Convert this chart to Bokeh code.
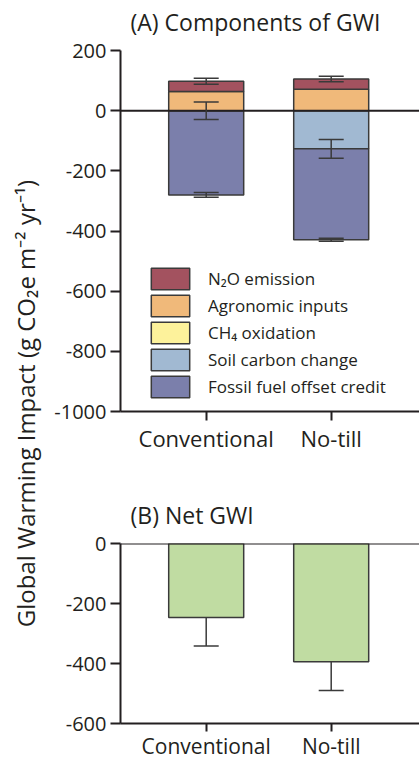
import numpy as np
from math import pi
from bokeh.plotting import figure
from bokeh.models import (ColumnDataSource, Whisker, TeeHead, Span, FixedTicker,
                          Legend, LegendItem, Label, Range1d)
from bokeh.layouts import row, column
from bokeh.embed import file_html
from bokeh.resources import INLINE

# ---------------- data ----------------
systems = ["Conventional", "No-till"]
x_pos = [1, 2]

n2o_emission = [34, 34]
n2o_err = [10, 9]
agronomic_inputs = [64, 71]
ch4_oxidation = [0, 0]
soil_carbon_change = [0, -127]
soil_carbon_err = [29, 31]
fossil_fuel_credit = [-280, -302]
fossil_fuel_err = [8, 5]

net_gwi = [-247, -394]
net_gwi_err = [95, 96]

a_ticks = [-1000, -800, -600, -400, -200, 0, 200]
a_tick_labels = ["-1000", "-800", "-600", "-400", "-200", "0", "200"]
b_ticks = [-600, -400, -200, 0]
b_tick_labels = ["-600", "-400", "-200", "0"]

legend_labels = ["N\u2082O emission", "Agronomic inputs", "CH\u2084 oxidation",
                 "Soil carbon change", "Fossil fuel offset credit"]
ylabel = "Global Warming Impact (g CO\u2082e m\u207b\u00b2 yr\u207b\u00b9)"
title_a = "(A)  Components of GWI"
title_b = "(B)  Net GWI"

# ---------------- styles ----------------
FONT = "Open Sans"
TXT = "#231f20"
EDGE = "#3a3a3a"
C_N2O = "#a3525f"
C_AGR = "#f0b97a"
C_CH4 = "#fdf29b"
C_SOIL = "#a1b9d2"
C_FOSSIL = "#7b7fab"
C_NET = "#c0dca2"

agr = np.array(agronomic_inputs, dtype=float)
n2o = np.array(n2o_emission, dtype=float)
soil = np.array(soil_carbon_change, dtype=float)
ch4 = np.array(ch4_oxidation, dtype=float)
fos = np.array(fossil_fuel_credit, dtype=float)

agr_top = agr
n2o_top = agr + n2o
soil_bot = soil
ch4_bot = soil + ch4
fos_bot = soil + ch4 + fos

X0, X1 = 0.3144, 2.7064  # x range (1 -> first bar, 2 -> second bar)


def blank(p):
    p.xgrid.visible = False
    p.ygrid.visible = False
    p.outline_line_color = None
    p.background_fill_color = "white"
    p.border_fill_color = "white"


def title_fig(text, h, baseline):
    # a text-only strip whose frame lines up with the panel frame below it
    t = figure(frame_width=299, frame_height=h, x_range=Range1d(X0, X1),
               y_range=Range1d(0, h), output_backend="svg", toolbar_location=None,
               min_border_left=78, min_border_right=0, min_border_top=0,
               min_border_bottom=0, x_axis_location=None, y_axis_location=None,
               title=None)
    blank(t)
    t.add_layout(Label(x=X0 + 10 / 125, y=baseline, text=text, text_align="left",
                       text_baseline="alphabetic", text_font=FONT,
                       text_font_size="23px", text_color=TXT))
    return t


def style_axes(p, ticks_y, labels_y):
    blank(p)
    p.yaxis.ticker = FixedTicker(ticks=ticks_y, minor_ticks=[])
    p.yaxis.major_label_overrides = {t: s for t, s in zip(ticks_y, labels_y)}
    p.xaxis.ticker = FixedTicker(ticks=x_pos, minor_ticks=[])
    p.xaxis.major_label_overrides = {xv: s for xv, s in zip(x_pos, systems)}
    for ax in (p.xaxis[0], p.yaxis[0]):
        ax.axis_line_color = TXT
        ax.axis_line_width = 2
        ax.major_tick_line_color = TXT
        ax.major_tick_line_width = 2
        ax.major_tick_in = 0
        ax.minor_tick_line_color = None
        ax.major_label_text_font = FONT
        ax.major_label_text_color = TXT
    p.yaxis.major_tick_out = 10
    p.yaxis.major_label_standoff = 4
    p.yaxis.major_label_text_font_size = "20px"
    p.xaxis.major_tick_out = 9
    p.xaxis.major_label_standoff = 2
    p.xaxis.major_label_text_font_size = "22px"


def whisker(p, base, center, err, lower_only=False):
    c = np.array(center, dtype=float)
    e = np.array(err, dtype=float)
    src = ColumnDataSource(dict(base=list(base),
                                upper=list(c if lower_only else c + e),
                                lower=list(c - e)))
    w = Whisker(source=src, base="base", upper="upper", lower="lower",
                line_color=EDGE, line_width=1.5, level="overlay",
                upper_head=None if lower_only else TeeHead(size=25, line_color=EDGE, line_width=1.5),
                lower_head=TeeHead(size=25, line_color=EDGE, line_width=1.5))
    p.add_layout(w)


# ---------------- panel A ----------------
tA = title_fig(title_a, 36, 15)

pA = figure(frame_width=299, frame_height=361, x_range=Range1d(X0, X1),
            y_range=Range1d(-1000, 200), output_backend="svg", toolbar_location=None,
            min_border_left=78, min_border_right=0, min_border_top=14,
            min_border_bottom=42, title=None)
style_axes(pA, a_ticks, a_tick_labels)

bw = 0.6
r_agr = pA.vbar(x=x_pos, width=bw, bottom=0, top=list(agr_top), fill_color=C_AGR,
                line_color=EDGE, line_width=1.5)
r_n2o = pA.vbar(x=x_pos, width=bw, bottom=list(agr_top), top=list(n2o_top),
                fill_color=C_N2O, line_color=EDGE, line_width=1.5)
r_soil = pA.vbar(x=x_pos, width=bw, bottom=list(soil_bot), top=0, fill_color=C_SOIL,
                 line_color=EDGE, line_width=1.5)
r_ch4 = pA.vbar(x=x_pos, width=bw, bottom=list(ch4_bot), top=list(soil_bot),
                fill_color=C_CH4, line_color=EDGE, line_width=1.5)
r_fos = pA.vbar(x=x_pos, width=bw, bottom=list(fos_bot), top=list(ch4_bot),
                fill_color=C_FOSSIL, line_color=EDGE, line_width=1.5)

pA.add_layout(Span(location=0, dimension="width", line_color=TXT, line_width=2))

whisker(pA, x_pos, n2o_top, n2o_err)
whisker(pA, x_pos, soil_bot, soil_carbon_err)
whisker(pA, x_pos, fos_bot, fossil_fuel_err)

legend = Legend(
    items=[LegendItem(label=lab, renderers=[r]) for lab, r in
           zip(legend_labels, [r_n2o, r_agr, r_ch4, r_soil, r_fos])],
    location=(26, 11), orientation="vertical", glyph_width=48, glyph_height=27,
    label_height=27, spacing=0, padding=0, margin=0, label_standoff=14,
    border_line_color=None, background_fill_alpha=0,
    label_text_font=FONT, label_text_font_size="17px", label_text_color=TXT)
pA.add_layout(legend)

# ---------------- panel B ----------------
tB = title_fig(title_b, 74, 15)

pB = figure(frame_width=299, frame_height=180, x_range=Range1d(X0, X1),
            y_range=Range1d(-600, 0), output_backend="svg", toolbar_location=None,
            min_border_left=78, min_border_right=0, min_border_top=14,
            min_border_bottom=37, title=None)
style_axes(pB, b_ticks, b_tick_labels)
pB.xaxis.major_tick_out = 8
pB.xaxis.major_label_standoff = 0
pB.xaxis.major_label_text_font_size = "21px"

pB.vbar(x=x_pos, width=bw, bottom=0, top=net_gwi, fill_color=C_NET,
        line_color=EDGE, line_width=1.5)
pB.add_layout(Span(location=0, dimension="width", line_color=TXT, line_width=2))
whisker(pB, x_pos, net_gwi, net_gwi_err, lower_only=True)

# ---------------- shared y label ----------------
H = 758
pL = figure(width=42, height=H, x_range=Range1d(0, 42), y_range=Range1d(0, H),
            output_backend="svg", toolbar_location=None, min_border=0,
            x_axis_location=None, y_axis_location=None, title=None)
blank(pL)
pL.add_layout(Label(x=25, y=H - 403, text=ylabel, angle=pi / 2,
                    text_align="center", text_baseline="middle",
                    text_font=FONT, text_font_size="24px", text_color=TXT))

layout = row(pL, column(tA, pA, tB, pB))
open("out.html", "w").write(file_html(layout, INLINE))
